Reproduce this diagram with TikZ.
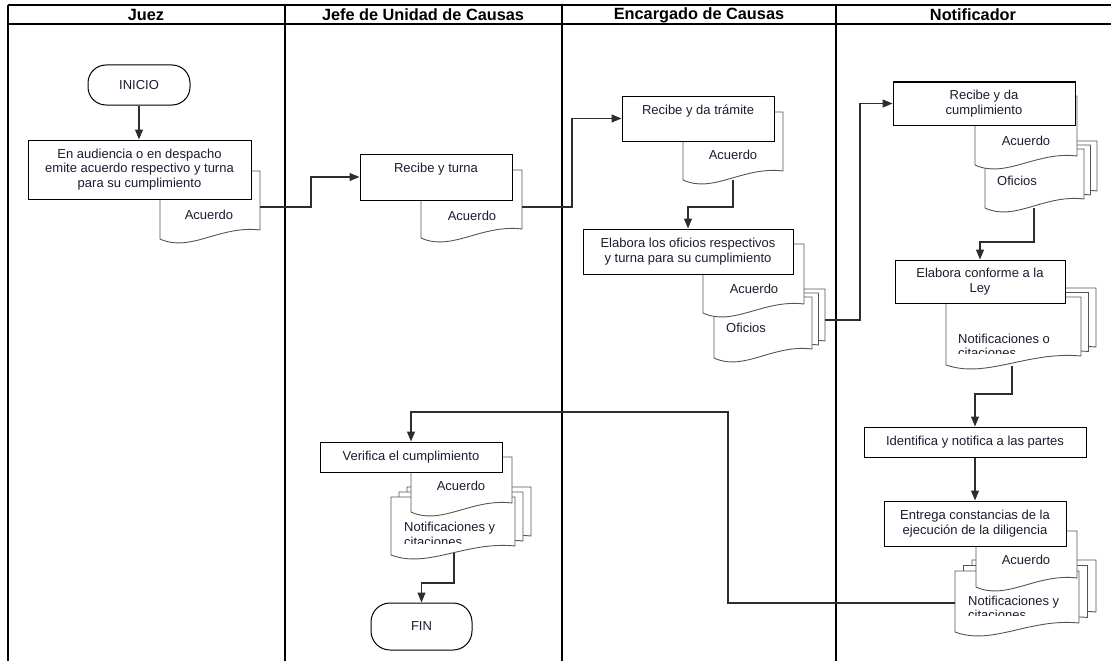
\documentclass[tikz,border=0pt]{standalone}
\usepackage{fontspec}
\setmainfont{Liberation Sans}
\usetikzlibrary{arrows.meta,calc}
\definecolor{txtc}{RGB}{28,28,48}
\definecolor{docc}{RGB}{85,85,85}
\definecolor{connc}{RGB}{45,45,45}
\newcommand\docshape[4]{%
  \draw[docline] ({#1},{#2}) -- ({#3},{#2}) -- ({#3},{(#4)-9})
    .. controls ({0.4*(#1)+0.6*(#3)},{(#4)-14}) and ({0.7*(#1)+0.3*(#3)},{(#4)+14}) .. ({#1},{#4}) -- cycle;}
\newcommand\multidocshape[6]{%
  \docshape{(#1)+2*(#5)}{(#2)+2*(#6)}{(#3)+2*(#5)}{(#4)+2*(#6)}%
  \docshape{(#1)+(#5)}{(#2)+(#6)}{(#3)+(#5)}{(#4)+(#6)}%
  \docshape{#1}{#2}{#3}{#4}}
\begin{document}
\begin{tikzpicture}[x=1pt,y=-1pt,
  lane/.style={line width=1.2pt,black},
  hdr/.style={font=\bfseries\fontsize{16.3}{18}\selectfont, inner sep=0pt},
  txt/.style={font=\fontsize{13}{14.5}\selectfont, text=txtc, inner sep=0pt, align=center},
  box/.style={draw=black, line width=1pt, fill=white, inner sep=0pt, font=\fontsize{13}{14.5}\selectfont, text=txtc, align=center},
  docline/.style={draw=docc, line width=0.9pt, fill=white},
  conn/.style={draw=connc, line width=1.2pt, -{Triangle[length=10pt,width=8pt]}}]
\useasboundingbox (0,0) rectangle (1111,661);
% lanes
\draw[lane] (8,5) -- (1111,5);
\draw[lane] (8,24) -- (1111,24);
\foreach \x in {8,285,562,836} \draw[lane] (\x,5) -- (\x,661);
\node[hdr] (hj) at (146,15) {Juez};
\node[hdr] (hjefe) at (423,15) {Jefe de Unidad de Causas};
\node[hdr] (henc) at (699,15) {Encargado de Causas};
\node[hdr] (hnot) at (973,15) {Notificador};
% Juez
\node[box, rounded corners=18pt, minimum width=102pt, minimum height=40pt] (inicio) at (139,85) {INICIO};
\docshape{160}{171}{260}{239}
\node[txt] (a1) at (209,215) {Acuerdo};
\coordinate (d1r) at (260,207);
\node[box, minimum width=223pt, minimum height=59pt] (b1) at (139.5,169.5) {En audiencia o en despacho\\emite acuerdo respectivo y turna\\para su cumplimiento};
% Jefe
\docshape{421}{170}{522}{238}
\node[txt] (a2) at (472,216) {Acuerdo};
\coordinate (d2r) at (522,207);
\node[box, minimum width=152pt, minimum height=46pt] (b2) at (436,177) {};
\node[txt] (t2) at (436,169) {Recibe y turna};
% Encargado
\docshape{683}{112}{783}{180}
\node[txt] (a3) at (733,155) {Acuerdo};
\coordinate (d3b) at (733,180);
\node[box, minimum width=152pt, minimum height=45pt] (b3) at (698,118.5) {};
\node[txt] (t3) at (698,111) {Recibe y da trámite};
\multidocshape{714}{297}{812}{358}{6.5}{-4}
\node[txt] (o4) at (746,328) {Oficios};
\coordinate (d4r) at (825,320);
\docshape{703}{244}{804}{313}
\node[txt] (a4) at (754,289) {Acuerdo};
\node[box, minimum width=210pt, minimum height=45pt] (b4) at (688,251.5) {Elabora los oficios respectivos\\y turna para su cumplimiento};
% Notificador
\multidocshape{985}{149}{1084}{208}{6.5}{-4}
\node[txt] (o5) at (1017,181) {Oficios};
\coordinate (d5b) at (1034,208);
\docshape{975}{96}{1077}{165}
\node[txt] (a5) at (1026,141) {Acuerdo};
\node[box, minimum width=182pt, minimum height=43pt] (b5) at (984,103.5) {Recibe y da\\cumplimiento};
\multidocshape{946}{297}{1081}{365}{7.5}{-4.5}
\begin{scope}
\clip (946,300) rectangle (1081,353.5);
\node[txt, anchor=base west] (n6a) at (958,343) {Notificaciones o};
\node[txt, anchor=base west] (n6b) at (958,357.5) {citaciones};
\end{scope}
\coordinate (d6b) at (1012,366);
\node[box, minimum width=170pt, minimum height=43pt] (b6) at (980,281.5) {Elabora conforme a la\\Ley};
\node[box, minimum width=222pt, minimum height=30pt] (b7) at (975,442) {Identifica y notifica a las partes};
\multidocshape{955}{571}{1079}{632}{8.5}{-5.5}
\begin{scope}
\clip (955,573) rectangle (1079,615.5);
\node[txt, anchor=base west] (n8a) at (968,605) {Notificaciones y};
\node[txt, anchor=base west] (n8b) at (968,619.5) {citaciones};
\end{scope}
\coordinate (d8l) at (955,603);
\docshape{976}{531}{1077}{587}
\node[txt] (a8) at (1026,560) {Acuerdo};
\node[box, minimum width=182pt, minimum height=45pt] (b8) at (975,523.5) {Entrega constancias de la\\ejecución de la diligencia};
% Jefe bottom
\multidocshape{391}{497}{515}{555}{8}{-5}
\begin{scope}
\clip (391,499) rectangle (515,543.5);
\node[txt, anchor=base west] (n9a) at (404,531.5) {Notificaciones y};
\node[txt, anchor=base west] (n9b) at (404,546) {citaciones};
\end{scope}
\coordinate (d9b) at (454,553);
\docshape{411}{457}{512}{512}
\node[txt] (a9) at (461,486) {Acuerdo};
\node[box, minimum width=182pt, minimum height=30pt] (b9) at (411,457) {Verifica el cumplimiento};
\node[box, rounded corners=19pt, minimum width=101pt, minimum height=47pt] (fin) at (421.5,626.5) {FIN};
% connectors
\draw[conn] (inicio.south) -- (inicio.south |- b1.north);
\draw[conn] (d1r) -- ++(51,0) |- (b2.west);
\draw[conn] (d2r) -- ++(50,0) |- (b3.west);
\draw[conn] (d3b) -- ++(0,27) -| (b4.north);
\draw[conn] (d4r) -- ++(35,0) |- (b5.west);
\draw[conn] (d5b) -- ++(0,34) -| (b6.north);
\draw[conn] (d6b) -- ++(0,28) -| (b7.north);
\draw[conn] (b7) -- (b8);
\draw[conn] (d8l) -| ++(-227,-191) -| (b9.north);
\draw[conn] (d9b) -- ++(0,30) -| (fin.north);
\end{tikzpicture}
\end{document}
